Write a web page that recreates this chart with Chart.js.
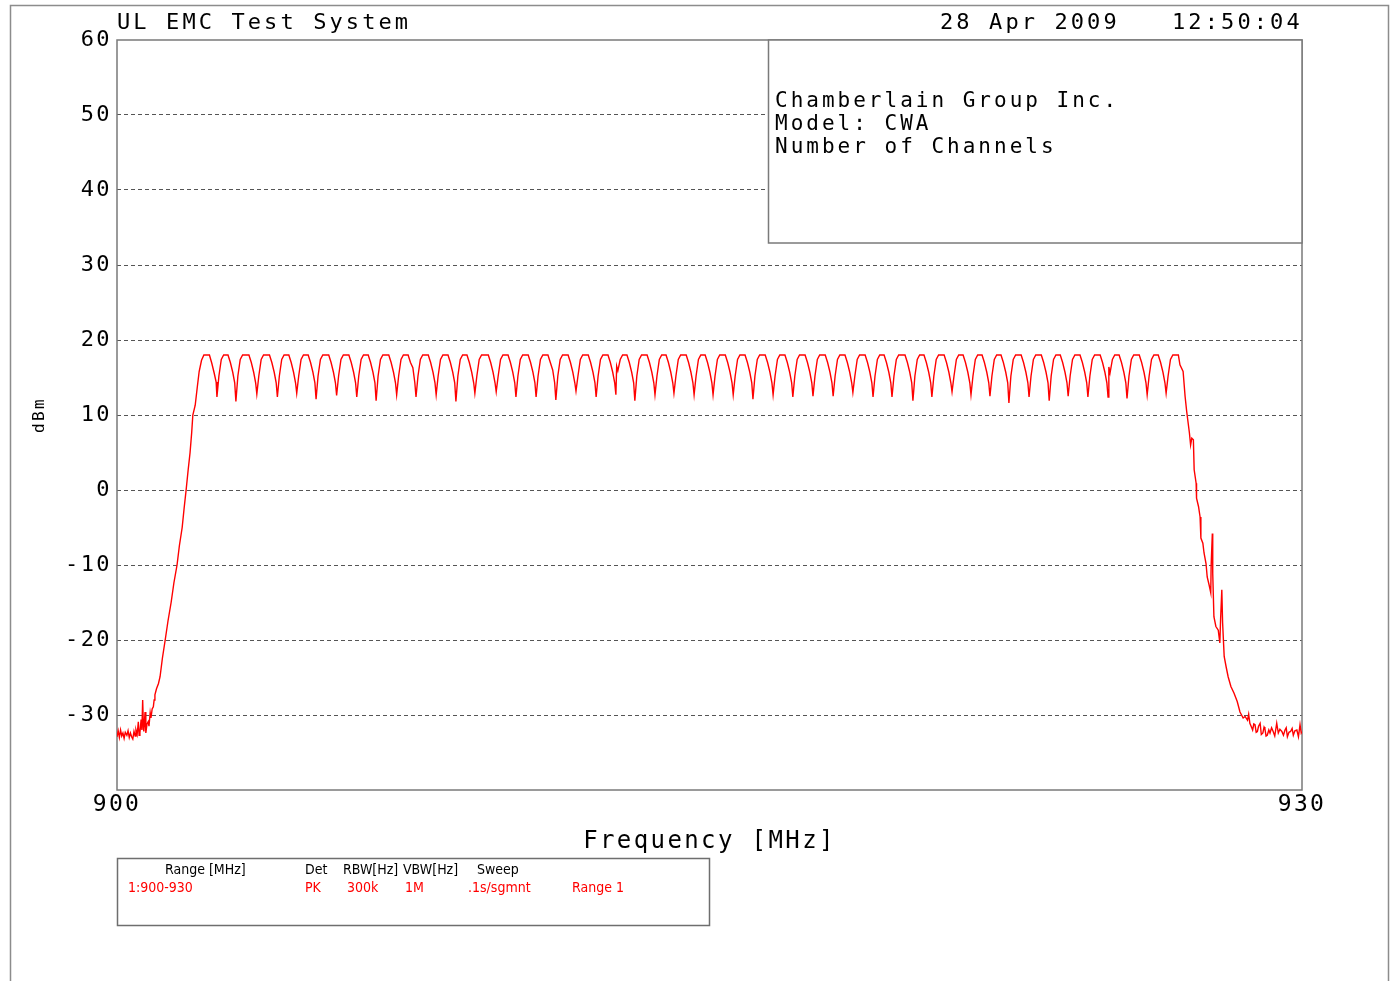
<!DOCTYPE html>
<html>
<head>
<meta charset="utf-8">
<script src="https://cdn.jsdelivr.net/npm/chart.js@4.4.1/dist/chart.umd.min.js"></script>
<style>
  html, body { margin: 0; padding: 0; background: #fff; overflow: hidden; }
  canvas { display: block; }
</style>
</head>
<body>
<canvas id="plot" width="1392" height="981"></canvas>
<script>
// Axis limits and tick labels
const freqMin = 900, freqMax = 930;
const levelMin = -40, levelMax = 60;
const freqTicks = [900, 930];
const levelTicks = [60, 50, 40, 30, 20, 10, 0, -10, -20, -30];

// Peak-detector sweep, [MHz, dBm]
// noise floor and lower band edge
const lowerSkirt = [
  [900.00,-32.9],[900.03,-32.1],[900.06,-33.0],[900.09,-32.0],[900.12,-32.8],[900.15,-32.4],
  [900.18,-33.1],[900.21,-32.3],[900.25,-32.7],[900.28,-32.1],[900.31,-33.0],[900.34,-32.4],
  [900.37,-32.9],[900.40,-33.2],[900.43,-32.2],[900.46,-32.8],[900.48,-32.0],[900.51,-32.6],
  [900.54,-30.9],[900.56,-32.7],[900.58,-32.4],[900.61,-30.6],[900.63,-32.0],[900.65,-28.0],
  [900.67,-31.8],[900.68,-32.2],[900.71,-29.6],[900.73,-32.4],[900.76,-31.2],[900.79,-30.9],
  [900.81,-31.5],[900.84,-29.7],[900.86,-30.4],[900.89,-29.2],[900.92,-28.9],[900.94,-28.0],
  [900.96,-27.3],[901.00,-26.5],[901.05,-25.8],[901.09,-24.9],[901.15,-22.4],[901.22,-20.0],
  [901.29,-17.5],[901.37,-15.0],[901.44,-12.4],[901.52,-10.0],[901.58,-7.4],[901.65,-5.0],
  [901.70,-2.4],[901.75,0.0],[901.80,2.6],[901.85,5.0],[901.89,7.6],[901.92,10.0],
  [901.98,11.3],[902.03,13.6],[902.08,15.8],[902.14,17.3],[902.20,18.0],[902.34,18.0],
  [902.40,16.9],[902.46,15.6],[902.51,14.4]
];

// 50 hopping channels: one row per channel, starting at the dip before it
const channelComb = [
  [902.53,12.4],[902.58,15.2],[902.64,17.4],[902.70,18.0],[902.81,18.0],[902.87,17.0],[902.93,15.7],[902.98,14.3],
  [903.01,11.8],[903.06,15.2],[903.12,17.4],[903.18,18.0],[903.34,18.0],[903.40,17.0],[903.46,15.7],[903.51,14.3],
  [903.54,12.8],[903.59,15.2],[903.65,17.4],[903.71,18.0],[903.86,18.0],[903.92,17.0],[903.98,15.7],[904.03,14.3],
  [904.06,12.4],[904.11,15.2],[904.17,17.4],[904.23,18.0],[904.35,18.0],[904.41,17.0],[904.47,15.7],[904.52,14.3],
  [904.55,12.9],[904.60,15.2],[904.66,17.4],[904.72,18.0],[904.84,18.0],[904.90,17.0],[904.96,15.7],[905.01,14.3],
  [905.04,12.1],[905.09,15.2],[905.15,17.4],[905.21,18.0],[905.36,18.0],[905.42,17.0],[905.48,15.7],[905.53,14.3],
  [905.56,12.6],[905.61,15.2],[905.67,17.4],[905.73,18.0],[905.87,18.0],[905.93,17.0],[905.99,15.7],[906.04,14.3],
  [906.07,12.4],[906.12,15.2],[906.18,17.4],[906.24,18.0],[906.36,18.0],[906.42,17.0],[906.48,15.7],[906.53,14.3],
  [906.56,11.9],[906.61,15.2],[906.67,17.4],[906.73,18.0],[906.88,18.0],[906.94,17.0],[907.00,15.7],[907.05,14.3],
  [907.08,12.7],[907.13,15.2],[907.19,17.4],[907.25,18.0],[907.37,18.0],[907.43,17.0],[907.49,16.3],[907.54,14.3],
  [907.57,12.4],[907.62,15.2],[907.68,17.4],[907.74,18.0],[907.88,18.0],[907.94,17.0],[908.00,15.7],[908.05,14.3],
  [908.08,12.7],[908.13,15.2],[908.19,17.4],[908.25,18.0],[908.38,18.0],[908.44,17.0],[908.50,15.7],[908.55,14.3],
  [908.58,11.8],[908.63,15.2],[908.69,17.4],[908.75,18.0],[908.86,18.0],[908.92,17.0],[908.98,15.7],[909.03,14.3],
  [909.06,12.9],[909.11,15.2],[909.17,17.4],[909.23,18.0],[909.40,18.0],[909.46,17.0],[909.52,15.7],[909.57,14.3],
  [909.60,13.1],[909.65,15.2],[909.71,17.4],[909.77,18.0],[909.90,18.0],[909.96,17.0],[910.02,15.7],[910.07,14.3],
  [910.10,12.4],[910.15,15.2],[910.21,17.4],[910.27,18.0],[910.41,18.0],[910.47,17.0],[910.53,15.7],[910.58,14.3],
  [910.61,12.4],[910.66,15.2],[910.72,17.4],[910.78,18.0],[910.91,18.0],[910.97,17.0],[911.03,16.0],[911.08,14.3],
  [911.11,12.0],[911.16,15.2],[911.22,17.4],[911.28,18.0],[911.42,18.0],[911.48,17.0],[911.54,15.7],[911.59,14.3],
  [911.62,13.2],[911.67,15.2],[911.73,17.4],[911.79,18.0],[911.93,18.0],[911.99,17.0],[912.05,15.7],[912.10,14.3],
  [912.13,12.4],[912.18,15.2],[912.24,17.4],[912.30,18.0],[912.43,18.0],[912.49,17.0],[912.55,15.7],[912.60,14.3],
  [912.63,12.7],[912.65,16.5],[912.68,15.9],[912.74,17.4],[912.80,18.0],[912.91,18.0],[912.97,17.0],[913.03,15.7],[913.08,14.3],
  [913.11,11.9],[913.16,15.2],[913.22,17.4],[913.28,18.0],[913.42,18.0],[913.48,17.0],[913.54,15.7],[913.59,14.3],
  [913.62,12.7],[913.67,15.2],[913.73,17.4],[913.79,18.0],[913.90,18.0],[913.96,17.0],[914.02,15.7],[914.07,14.3],
  [914.10,12.9],[914.15,15.2],[914.21,17.4],[914.27,18.0],[914.41,18.0],[914.47,17.0],[914.53,15.7],[914.58,14.3],
  [914.61,12.7],[914.66,15.2],[914.72,17.4],[914.78,18.0],[914.89,18.0],[914.95,17.0],[915.01,15.7],[915.06,14.3],
  [915.09,12.7],[915.14,15.2],[915.20,17.4],[915.26,18.0],[915.40,18.0],[915.46,17.0],[915.52,15.7],[915.57,14.3],
  [915.60,12.7],[915.65,15.2],[915.71,17.4],[915.77,18.0],[915.90,18.0],[915.96,17.0],[916.02,15.7],[916.07,14.3],
  [916.10,12.1],[916.15,15.2],[916.21,17.4],[916.27,18.0],[916.41,18.0],[916.47,17.0],[916.53,15.7],[916.58,14.3],
  [916.61,12.7],[916.66,15.2],[916.72,17.4],[916.78,18.0],[916.91,18.0],[916.97,17.0],[917.03,15.7],[917.08,14.3],
  [917.11,12.4],[917.16,15.2],[917.22,17.4],[917.28,18.0],[917.42,18.0],[917.48,17.0],[917.54,15.7],[917.59,14.3],
  [917.62,12.5],[917.67,15.2],[917.73,17.4],[917.79,18.0],[917.93,18.0],[917.99,17.0],[918.05,15.7],[918.10,14.3],
  [918.13,12.5],[918.18,15.2],[918.24,17.4],[918.30,18.0],[918.43,18.0],[918.49,17.0],[918.55,15.7],[918.60,14.3],
  [918.63,13.0],[918.68,15.2],[918.74,17.4],[918.80,18.0],[918.94,18.0],[919.00,17.0],[919.06,15.7],[919.11,14.3],
  [919.14,12.4],[919.19,15.2],[919.25,17.4],[919.31,18.0],[919.42,18.0],[919.48,17.0],[919.54,15.7],[919.59,14.3],
  [919.62,12.4],[919.67,15.2],[919.73,17.4],[919.79,18.0],[919.95,18.0],[920.01,17.0],[920.07,15.7],[920.12,14.3],
  [920.15,11.9],[920.20,15.2],[920.26,17.4],[920.32,18.0],[920.43,18.0],[920.49,17.0],[920.55,15.7],[920.60,14.3],
  [920.63,12.4],[920.68,15.2],[920.74,17.4],[920.80,18.0],[920.94,18.0],[921.00,17.0],[921.06,15.7],[921.11,14.3],
  [921.14,13.1],[921.19,15.2],[921.25,17.4],[921.31,18.0],[921.42,18.0],[921.48,17.0],[921.54,15.7],[921.59,14.3],
  [921.62,12.7],[921.67,15.2],[921.73,17.4],[921.79,18.0],[921.90,18.0],[921.96,17.0],[922.02,15.7],[922.07,14.3],
  [922.10,12.5],[922.15,15.2],[922.21,17.4],[922.27,18.0],[922.38,18.0],[922.44,17.0],[922.50,15.7],[922.55,14.3],
  [922.58,11.6],[922.63,15.2],[922.69,17.4],[922.75,18.0],[922.89,18.0],[922.95,17.0],[923.01,15.7],[923.06,14.3],
  [923.09,12.4],[923.14,15.2],[923.20,17.4],[923.26,18.0],[923.40,18.0],[923.46,17.0],[923.52,15.7],[923.57,14.3],
  [923.60,11.9],[923.65,15.2],[923.71,17.4],[923.77,18.0],[923.88,18.0],[923.94,17.0],[924.00,15.7],[924.05,14.3],
  [924.08,12.5],[924.13,15.2],[924.19,17.4],[924.25,18.0],[924.38,18.0],[924.44,17.0],[924.50,15.7],[924.55,14.3],
  [924.58,12.4],[924.63,15.2],[924.69,17.4],[924.75,18.0],[924.89,18.0],[924.95,17.0],[925.01,15.7],[925.06,14.3],
  [925.09,12.4],[925.11,16.4],[925.14,15.6],[925.20,17.4],[925.26,18.0],[925.37,18.0],[925.43,17.0],[925.49,15.7],[925.54,14.3],
  [925.57,12.2],[925.62,15.2],[925.68,17.4],[925.74,18.0],[925.88,18.0],[925.94,17.0],[926.00,15.7],[926.05,14.3],
  [926.08,12.7],[926.13,15.2],[926.19,17.4],[926.25,18.0],[926.36,18.0],[926.42,17.0],[926.48,15.7],[926.53,14.3],
  [926.56,12.9]
];

// last channel, upper band edge and noise floor
const upperSkirt = [
  [926.61,15.2],[926.67,17.4],[926.73,18.0],[926.87,18.0],[926.91,16.7],[926.99,15.8],
  [927.04,12.5],[927.08,10.5],[927.15,7.6],[927.18,6.0],[927.21,6.9],[927.25,6.7],
  [927.27,2.7],[927.32,0.9],[927.33,-1.1],[927.38,-2.2],[927.42,-3.6],[927.44,-6.4],
  [927.49,-7.1],[927.52,-8.4],[927.57,-9.8],[927.60,-11.6],[927.65,-12.7],[927.69,-13.7],
  [927.70,-10.0],[927.73,-5.8],[927.74,-11.1],[927.77,-16.9],[927.82,-18.2],[927.88,-18.7],
  [927.92,-20.4],[927.94,-17.1],[927.97,-13.3],[927.99,-17.7],[928.03,-22.2],[928.08,-23.6],
  [928.13,-24.9],[928.20,-26.2],[928.28,-27.1],[928.36,-28.2],[928.43,-29.6],[928.51,-30.4],
  [928.56,-30.2],[928.62,-30.7],[928.65,-29.9],[928.68,-31.1],[928.72,-31.6],[928.75,-32.0],
  [928.78,-31.2],[928.81,-31.3],[928.84,-32.3],[928.87,-32.2],[928.90,-31.5],[928.94,-31.1],
  [928.97,-32.6],[929.01,-32.4],[929.04,-31.6],[929.06,-31.8],[929.09,-32.8],[929.12,-32.7],
  [929.16,-32.0],[929.19,-32.4],[929.23,-31.7],[929.27,-32.2],[929.31,-32.8],[929.36,-31.1],
  [929.40,-32.4],[929.44,-31.9],[929.49,-32.2],[929.53,-32.7],[929.57,-32.0],[929.60,-31.7],
  [929.63,-32.9],[929.67,-32.3],[929.71,-32.2],[929.75,-31.8],[929.78,-32.7],[929.82,-32.1],
  [929.87,-32.0],[929.91,-32.9],[929.95,-31.3],[929.98,-32.4],[930.00,-32.2]
];

// Header and annotation texts
const headerLeft = 'UL EMC Test System';
const headerDate = '28 Apr 2009';
const headerTime = '12:50:04';
const infoLines = ['Chamberlain Group Inc.', 'Model: CWA', 'Number of Channels'];
const setupHeads = ['Range [MHz]', 'Det', 'RBW[Hz]', 'VBW[Hz]', 'Sweep'];
const setupValues = ['1:900-930', 'PK', '300k', '1M', '.1s/sgmnt', 'Range 1'];

const plotterFont = "'DejaVu Sans Mono', 'Liberation Mono', monospace";
const narrowFont = "'Liberation Sans Narrow', 'DejaVu Sans Condensed', 'Liberation Sans', sans-serif";

const sweep = [...lowerSkirt, ...channelComb, ...upperSkirt].map(([x, y]) => ({ x, y }));

const sheetDecor = {
  id: 'sheetDecor',
  beforeDraw(chart) {
    const ctx = chart.ctx;
    ctx.save();
    ctx.fillStyle = '#ffffff';
    ctx.fillRect(0, 0, chart.width, chart.height);
    // sheet outline
    ctx.strokeStyle = '#8c8c8c';
    ctx.lineWidth = 1.5;
    ctx.beginPath();
    ctx.moveTo(10.5, chart.height);
    ctx.lineTo(10.5, 5.5);
    ctx.lineTo(1388.5, 5.5);
    ctx.lineTo(1388.5, chart.height);
    ctx.stroke();
    ctx.restore();
    ctx.letterSpacing = '2.4px';
  },
  beforeDatasetsDraw(chart) {
    const { ctx, chartArea: a } = chart;
    ctx.save();
    // plot frame
    ctx.strokeStyle = '#7a7a7a';
    ctx.lineWidth = 1.5;
    ctx.strokeRect(a.left, a.top, a.right - a.left, a.bottom - a.top);
    // device info panel, upper right
    const bx = 768.5, by = a.top, bw = a.right - bx, bh = 203;
    ctx.fillStyle = '#ffffff';
    ctx.fillRect(bx, by, bw, bh);
    ctx.strokeRect(bx, by, bw, bh);
    ctx.restore();
  },
  afterDraw(chart) {
    const ctx = chart.ctx;
    ctx.save();
    ctx.fillStyle = '#000';
    ctx.textBaseline = 'alphabetic';
    ctx.textAlign = 'left';
    ctx.font = '22px ' + plotterFont;
    ctx.letterSpacing = '3.1px';
    ctx.fillText(headerLeft, 117, 29);
    ctx.fillText(headerDate, 940, 29);
    ctx.fillText(headerTime, 1172, 29);

    ctx.font = '21px ' + plotterFont;
    ctx.letterSpacing = '3.0px';
    infoLines.forEach((t, i) => ctx.fillText(t, 775, 107 + i * 23));

    // measurement setup box
    ctx.letterSpacing = '0px';
    ctx.strokeStyle = '#6e6e6e';
    ctx.lineWidth = 1.5;
    ctx.strokeRect(117.5, 858.5, 592, 67);
    ctx.font = '14px ' + narrowFont;
    const headX = [165, 305, 343, 403, 477];
    setupHeads.forEach((t, i) => ctx.fillText(t, headX[i], 874));
    ctx.fillStyle = '#ff0000';
    const valX = [128, 305, 347, 405, 468, 572];
    setupValues.forEach((t, i) => ctx.fillText(t, valX[i], 892));
    ctx.restore();
    ctx.letterSpacing = '0px';
  }
};

Chart.defaults.color = '#000';

new Chart(document.getElementById('plot'), {
  type: 'line',
  data: {
    datasets: [{
      data: sweep,
      borderColor: '#ff0000',
      borderWidth: 1.4,
      pointRadius: 0,
      tension: 0,
      fill: false
    }]
  },
  options: {
    responsive: false,
    devicePixelRatio: 1,
    animation: false,
    events: [],
    layout: { padding: { left: 0, top: 40, right: 90, bottom: 121 } },
    plugins: { legend: { display: false }, tooltip: { enabled: false } },
    scales: {
      x: {
        type: 'linear',
        min: freqMin,
        max: freqMax,
        afterBuildTicks: (s) => { s.ticks = freqTicks.map(v => ({ value: v })); },
        afterFit: (s) => { s.height = 70; },
        grid: { display: false, drawTicks: false },
        border: { display: false },
        ticks: {
          font: { family: plotterFont, size: 23 },
          padding: 1,
          maxRotation: 0,
          autoSkip: false
        },
        title: {
          display: true,
          text: 'Frequency [MHz]',
          font: { family: plotterFont, size: 24 },
          padding: { top: 0, bottom: 4 }
        }
      },
      y: {
        min: levelMin,
        max: levelMax,
        afterBuildTicks: (s) => { s.ticks = levelTicks.map(v => ({ value: v })); },
        afterFit: (s) => { s.width = 117; },
        grid: {
          drawTicks: false,
          lineWidth: 1,
          color: (c) => (c.tick && c.tick.value === levelMax) ? 'rgba(0,0,0,0)' : '#555'
        },
        border: { display: false, dash: [4, 3] },
        ticks: {
          font: { family: plotterFont, size: 22 },
          padding: 5
        },
        title: {
          display: true,
          text: 'dBm',
          font: { family: plotterFont, size: 16 },
          padding: { top: 30, bottom: 0 }
        }
      }
    }
  },
  plugins: [sheetDecor]
});
</script>
</body>
</html>
